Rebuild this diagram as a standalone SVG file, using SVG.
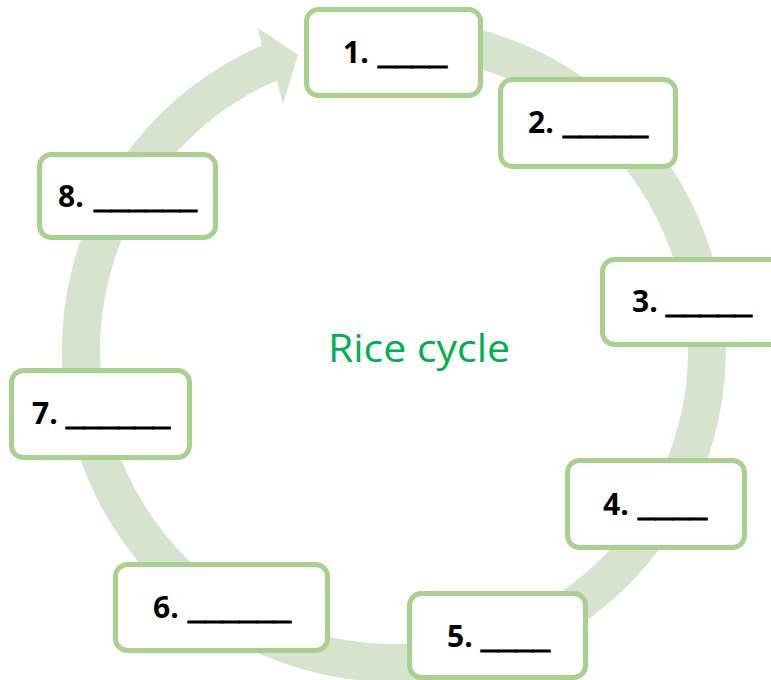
<svg xmlns="http://www.w3.org/2000/svg" width="771" height="680" viewBox="0 0 771 680">
<style>
.box{fill:#FFFFFF;stroke:#A9D18E;stroke-width:5}
.num{font-family:"Open Sans","Liberation Sans",sans-serif;font-weight:bold;font-size:30px;fill:#000000}
.blank{stroke:#000000;stroke-width:1}
.title{font-family:"Open Sans","Liberation Sans",sans-serif;font-size:39px;fill:#00B050}
.ring{fill:#D6E3CF;stroke:none}
</style>
<rect width="771" height="680" fill="#FFFFFF"/>
<g id="connectors">
<path class="ring" d="M394,18 A332,332 0 1 1 261.6,45.5 L258,28 L298,55 L283,104 L276.8,80.4 A294,294 0 1 0 394,56 Z"/>
</g>
<text class="title" x="328" y="362" textLength="182" lengthAdjust="spacingAndGlyphs">Rice cycle</text>
<g id="node1">
<rect class="box" x="306.5" y="9.5" width="174" height="86" rx="12"/>
<text class="num" x="343" y="63">1.</text>
<text class="num blank" x="378" y="63" textLength="69" lengthAdjust="spacingAndGlyphs">____</text>
</g>
<g id="node2">
<rect class="box" x="500.5" y="79.5" width="175" height="87" rx="12"/>
<text class="num" x="528" y="133">2.</text>
<text class="num blank" x="563" y="133" textLength="85" lengthAdjust="spacingAndGlyphs">_____</text>
</g>
<g id="node3">
<rect class="box" x="602.5" y="259.5" width="180" height="85" rx="12"/>
<text class="num" x="632" y="312">3.</text>
<text class="num blank" x="666" y="312" textLength="86" lengthAdjust="spacingAndGlyphs">_____</text>
</g>
<g id="node4">
<rect class="box" x="567.5" y="460.5" width="177" height="87" rx="12"/>
<text class="num" x="603" y="515">4.</text>
<text class="num blank" x="638" y="515" textLength="69" lengthAdjust="spacingAndGlyphs">____</text>
</g>
<g id="node5">
<rect class="box" x="409.5" y="593.5" width="176" height="84" rx="12"/>
<text class="num" x="447" y="647">5.</text>
<text class="num blank" x="481" y="647" textLength="69" lengthAdjust="spacingAndGlyphs">____</text>
</g>
<g id="node6">
<rect class="box" x="115.5" y="564.5" width="212" height="86" rx="12"/>
<text class="num" x="153" y="618">6.</text>
<text class="num blank" x="188" y="618" textLength="103" lengthAdjust="spacingAndGlyphs">______</text>
</g>
<g id="node7">
<rect class="box" x="11.5" y="370.5" width="178" height="87" rx="12"/>
<text class="num" x="32" y="424">7.</text>
<text class="num blank" x="66" y="424" textLength="104" lengthAdjust="spacingAndGlyphs">______</text>
</g>
<g id="node8">
<rect class="box" x="39.5" y="154.5" width="176" height="83" rx="12"/>
<text class="num" x="58" y="207">8.</text>
<text class="num blank" x="94" y="207" textLength="103" lengthAdjust="spacingAndGlyphs">______</text>
</g>
</svg>
